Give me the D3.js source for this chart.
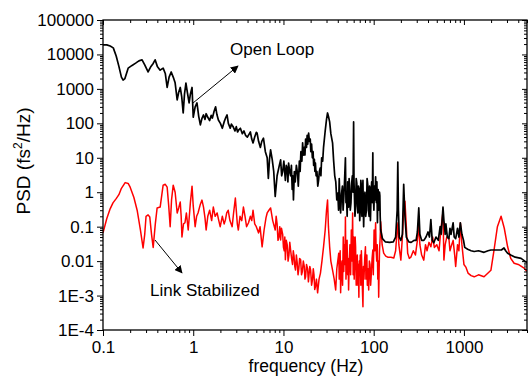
<!DOCTYPE html>
<html>
<head>
<meta charset="utf-8">
<script src="https://cdn.jsdelivr.net/npm/d3@7"></script>
<style>
  body { margin: 0; background: #fff; }
  svg { display: block; font-family: "Liberation Sans", Arial, sans-serif; }
</style>
</head>
<body>
<div id="chart"></div>
<script>
// tick values and their printed labels
const xTickValues = [0.1, 1, 10, 100, 1000];
const xTickLabels = ["0.1", "1", "10", "100", "1000"];
const yTickValues = [1e-4, 1e-3, 0.01, 0.1, 1, 10, 100, 1000, 10000, 100000];
const yTickLabels = ["1E-4", "1E-3", "0.01", "0.1", "1", "10", "100", "1000", "10000", "100000"];

// [frequency (Hz), PSD (fs^2/Hz)]
const openLoop = [
  [0.1,19000],[0.11,19000],[0.12,17500],[0.13,15500],[0.14,9000],[0.15,4500],[0.16,2200],[0.167,1800],
  [0.175,2000],[0.19,4000],[0.21,4800],[0.23,5600],[0.25,6500],[0.271,7000],[0.29,5000],[0.316,3100],
  [0.34,4500],[0.36,5500],[0.378,7000],[0.40,4500],[0.43,3500],[0.45,3800],[0.464,4000],[0.49,2800],
  [0.514,1100],[0.54,2200],[0.57,3100],[0.6,2200],[0.63,1500],[0.664,480],[0.69,800],[0.718,1100],
  [0.745,600],[0.774,200],[0.80,700],[0.83,1480],[0.86,800],[0.9,390],[0.93,700],[0.97,1100],[1.0,150],
  [1.05,300],[1.1,390],[1.15,160],[1.2,90],[1.25,140],[1.3,175],[1.35,130],[1.39,190],[1.45,150],
  [1.52,120],[1.58,170],[1.63,142],[1.7,220],[1.77,300],[1.83,180],[1.9,125],[2.0,100],[2.1,72],
  [2.2,110],[2.3,150],[2.37,175],[2.45,100],[2.57,72],[2.65,95],[2.78,78],[2.9,60],[3.0,80],[3.1,56],
  [3.2,65],[3.33,72],[3.5,50],[3.65,60],[3.8,45],[3.98,40],[4.15,48],[4.3,56],[4.45,35],[4.6,27],
  [4.8,40],[5.0,55],[5.1,52],[5.3,30],[5.55,20],[5.75,30],[6.0,37],[6.3,15],[6.6,10],[6.8,2.5],[7.0,9],
  [7.2,17],[7.5,9],[7.8,4],[8.1,0.75],[8.5,3],[9.0,6],[9.3,8.7],[9.55,3],[9.8,4],[10.1,8],[10.5,2.2],
  [10.75,6],[11.0,5],[11.2,2],[11.4,7],[11.7,4],[12.0,3],[12.25,6],[12.5,1.2],[12.7,3],[12.9,0.6],
  [13.2,4],[13.5,2],[13.9,6],[14.3,3.6],[14.6,1.5],[15.0,8],[15.3,4],[15.6,15],[16.0,8],[16.3,27],
  [16.6,12],[17.0,20],[17.3,12],[17.6,35],[18.0,20],[18.3,45],[18.6,25],[19.0,52],[19.4,30],[19.8,35],
  [20.1,15],[20.5,25],[20.9,10],[21.3,15],[21.6,6],[22.0,9],[22.3,4],[22.6,7],[23,3],[23.5,4],[24,1.5],
  [24.5,2.2],[25,4],[25.5,5],[26,3],[26.5,10],[27.2,8],[27.8,20],[29.0,60],[30.0,130],[30.8,200],
  [31.5,160],[32.5,110],[33.5,50],[35,27],[36,8],[37,3],[38,2],[39,0.6],[40,0.95],[40.8,0.3],[41.5,2.5],
  [42.3,0.5],[43,0.25],[44,0.9],[45,1.5],[45.8,0.3],[46.5,0.6],[47.5,2],[48.6,10],[49.3,0.5],[50,0.8],
  [50.8,0.2],[51.5,2],[52.1,0.6],[52.7,0.37],[53.4,2.5],[54,1.5],[55,0.3],[56,0.5],[57,1.8],[58,3],
  [59,1],[59.9,110],[60.5,2],[61,1],[62,0.2],[63,0.4],[64,2.5],[65,1.8],[66,0.4],[66.7,0.25],[67.8,1.5],
  [69,1.2],[70,0.15],[71,0.3],[72,2.2],[73,1.5],[74,0.2],[74.5,0.5],[75.3,1],[76,2.2],[76.8,0.3],
  [77.4,0.1],[78.5,0.6],[80,1],[81.5,0.2],[83,0.3],[84.5,2.5],[86,1.6],[87.5,0.3],[89,0.2],[90,1.5],
  [91,1],[92,0.15],[92.8,0.37],[94,1.2],[95,2],[96.5,0.5],[97.8,14],[98.5,1],[99,0.8],[100.5,0.3],
  [102,1.5],[103.5,0.6],[105,2.8],[106,1],[107,0.5],[108.5,2],[110,0.13],[111,0.6],[112,1.2],
  [113.5,0.3],[115,0.4],[116,1],[117,0.8],[118,0.2],[119.5,0.08],[125,0.045],[135,0.036],[150,0.035],
  [165,0.036],[175,0.05],[182,0.3],[185,7.5],[188,0.3],[192,0.05],[200,0.04],[208,0.06],[215,1.7],
  [222,0.2],[230,0.05],[245,0.036],[260,0.035],[280,0.04],[295,0.04],[305,0.07],[316,0.35],[325,0.06],
  [340,0.04],[360,0.04],[380,0.05],[400,0.07],[415,0.05],[430,0.16],[445,0.04],[464,0.034],[490,0.05],
  [520,0.04],[545,0.1],[560,0.06],[586,0.37],[600,0.15],[620,0.06],[631,0.12],[655,0.05],[681,0.045],
  [700,0.09],[720,0.06],[759,0.13],[780,0.05],[810,0.045],[850,0.09],[880,0.05],[913,0.13],[950,0.06],
  [990,0.04],[1020,0.025],[1100,0.022],[1200,0.02],[1300,0.019],[1450,0.02],[1670,0.018],[1850,0.02],
  [1990,0.021],[2300,0.021],[2600,0.021],[2780,0.024],[2900,0.02],[3050,0.017],[3300,0.015],
  [3700,0.013],[4300,0.012],[5000,0.009]
];

const linkStabilized = [
  [0.1,0.066],[0.11,0.17],[0.12,0.33],[0.129,0.49],[0.14,0.65],[0.15,0.85],[0.16,1.3],[0.176,1.9],
  [0.19,1.8],[0.2,1.4],[0.22,0.7],[0.239,0.3],[0.26,0.08],[0.278,0.024],[0.29,0.06],[0.30,0.2],
  [0.316,0.22],[0.33,0.19],[0.345,0.06],[0.36,0.025],[0.38,0.12],[0.398,0.35],[0.43,0.37],[0.45,0.9],
  [0.464,1.6],[0.49,1.7],[0.514,1.4],[0.535,0.4],[0.555,0.1],[0.575,0.6],[0.6,1.6],[0.63,1.0],
  [0.664,0.25],[0.69,0.35],[0.718,0.52],[0.735,0.2],[0.75,0.05],[0.78,0.12],[0.81,0.13],[0.84,0.25],
  [0.88,0.08],[0.93,0.5],[0.97,1.5],[1.0,0.4],[1.05,0.1],[1.09,0.2],[1.13,0.25],[1.2,0.45],[1.25,0.59],
  [1.3,0.37],[1.35,0.18],[1.39,0.08],[1.45,0.2],[1.52,0.3],[1.6,0.15],[1.67,0.37],[1.75,0.2],[1.84,0.25],
  [1.92,0.15],[1.99,0.1],[2.1,0.2],[2.2,0.12],[2.27,0.155],[2.35,0.25],[2.44,0.3],[2.55,0.15],[2.7,0.1],
  [2.8,0.25],[2.93,0.68],[3.0,0.3],[3.08,0.12],[3.16,0.08],[3.3,0.2],[3.45,0.15],[3.6,0.37],[3.75,0.2],
  [3.9,0.1],[4.1,0.13],[4.3,0.2],[4.45,0.15],[4.6,0.3],[4.8,0.12],[5.0,0.1],[5.3,0.066],[5.5,0.1],
  [5.8,0.026],[6.1,0.08],[6.4,0.18],[6.6,0.25],[6.9,0.3],[7.2,0.35],[7.6,0.15],[8.1,0.08],[8.3,0.2],
  [8.5,0.12],[8.7,0.04],[8.9,0.05],[9.1,0.1],[9.3,0.041],[9.5,0.09],[9.8,0.06],[10,0.025],[10.2,0.02],
  [10.35,0.05],[10.5,0.011],[10.75,0.04],[11.0,0.03],[11.25,0.01],[11.5,0.015],[11.75,0.035],
  [12.0,0.021],[12.3,0.012],[12.6,0.008],[12.85,0.02],[13.1,0.014],[13.35,0.007],[13.6,0.0055],
  [13.9,0.015],[14.2,0.009],[14.5,0.004],[14.8,0.006],[15.1,0.012],[15.5,0.011],[15.85,0.004],
  [16.2,0.005],[16.6,0.01],[17.0,0.007],[17.3,0.003],[17.6,0.0035],[18,0.008],[18.5,0.006],
  [18.9,0.0025],[19.2,0.004],[19.6,0.007],[20.0,0.0055],[20.5,0.002],[21.0,0.003],[21.4,0.006],
  [21.8,0.004],[22.2,0.0015],[22.6,0.0018],[23.2,0.003],[23.9,0.0012],[24.8,0.003],[25.7,0.0045],
  [26.7,0.01],[27.8,0.026],[29,0.08],[30,0.3],[30.8,0.59],[31.5,0.1],[32.5,0.026],[33.5,0.01],
  [35,0.0055],[36.5,0.003],[37.9,0.00145],[39,0.006],[41,0.017],[41.5,0.003],[42,0.004],[42.5,0.02],
  [43,0.0012],[43.7,0.006],[44.5,0.01],[45.2,0.002],[46,0.05],[46.6,0.005],[47.3,0.03],[48,0.008],
  [48.6,0.19],[49.3,0.003],[50,0.01],[50.7,0.04],[51.5,0.004],[52.1,0.012],[52.7,0.00145],[53.5,0.008],
  [54.5,0.03],[55.5,0.004],[56.5,0.08],[57.5,0.01],[58.4,0.25],[59.2,0.004],[60,0.05],[60.8,0.003],
  [61.5,0.01],[62.3,0.05],[63,0.026],[64,0.002],[65,0.004],[65.8,0.015],[66.7,0.002],[67.6,0.008],
  [68.5,0.0009],[69.3,0.01],[70,0.004],[71,0.015],[72,0.002],[73,0.02],[74,0.006],[75,0.0015],
  [76,0.00047],[77,0.007],[78,0.003],[79.5,0.012],[81,0.026],[82,0.003],[83,0.005],[84,0.015],
  [85,0.002],[86.5,0.006],[88,0.00145],[89.5,0.01],[91,0.008],[92.5,0.002],[94,0.004],[96,0.012],
  [97.8,0.021],[99,0.004],[101,0.08],[103,0.02],[105,0.13],[106.5,0.02],[108,0.01],[109.5,0.03],
  [111,0.003],[112.3,0.01],[113.6,0.0009],[115,0.006],[116,0.02],[118,0.05],[119.5,0.14],[124,0.03],
  [129,0.017],[136,0.014],[143,0.013],[155,0.013],[167,0.0123],[175,0.02],[182,0.08],[186,0.13],
  [190,0.03],[200,0.0107],[208,0.05],[215,0.3],[222,0.55],[230,0.1],[238,0.017],[248,0.012],[258,0.013],
  [275,0.02],[290,0.015],[305,0.04],[316,0.12],[325,0.03],[340,0.015],[359,0.0107],[375,0.03],
  [390,0.02],[410,0.035],[430,0.026],[450,0.05],[470,0.025],[500,0.03],[530,0.02],[556,0.087],
  [586,0.27],[600,0.0107],[620,0.03],[645,0.05],[681,0.047],[700,0.02],[720,0.026],[759,0.04],
  [790,0.015],[810,0.007],[850,0.03],[880,0.02],[913,0.13],[950,0.03],[1000,0.008],[1050,0.0067],
  [1110,0.0045],[1200,0.0038],[1300,0.0035],[1450,0.004],[1670,0.0035],[1850,0.0045],[1990,0.0054],
  [2150,0.02],[2350,0.1],[2580,0.2],[2800,0.09],[3050,0.026],[3300,0.012],[3600,0.0087],[4000,0.008],
  [4640,0.0063],[5000,0.005]
];

const W = 530, H = 376;
const plot = {left: 103, right: 527, top: 20, bottom: 330};

const svg = d3.select("#chart").append("svg")
    .attr("width", W)
    .attr("height", H);

const x = d3.scaleLog().domain([0.1, 5000]).range([plot.left, plot.right]);
const y = d3.scaleLog().domain([1e-4, 1e5]).range([plot.bottom, plot.top]);

const isMajor = v => Math.abs(Math.log10(v) - Math.round(Math.log10(v))) < 1e-6;
const xMinor = x.ticks().filter(v => !isMajor(v));
const yMinor = y.ticks().filter(v => !isMajor(v));

svg.append("clipPath").attr("id", "clip")
  .append("rect")
    .attr("x", plot.left).attr("y", plot.top)
    .attr("width", plot.right - plot.left).attr("height", plot.bottom - plot.top);

const line = d3.line()
    .x(d => x(d[0]))
    .y(d => y(d[1]));

const lines = svg.append("g").attr("clip-path", "url(#clip)");
lines.append("path")
    .datum(linkStabilized)
    .attr("fill", "none")
    .attr("stroke", "#ff0000")
    .attr("stroke-width", 1.5)
    .attr("stroke-linejoin", "round")
    .attr("d", line);
lines.append("path")
    .datum(openLoop)
    .attr("fill", "none")
    .attr("stroke", "#000")
    .attr("stroke-width", 1.7)
    .attr("stroke-linejoin", "round")
    .attr("d", line);

// axes: left/bottom ticks out, top/right ticks in
function styleAxis(g) {
  g.select(".domain").remove();
  g.selectAll("line").attr("stroke", "#000").attr("stroke-width", 1);
  g.selectAll("text").attr("font-size", 17).attr("fill", "#000")
    .attr("font-family", "'Liberation Sans', Arial, sans-serif");
}

svg.append("g").attr("transform", `translate(${plot.left},0)`)
    .call(d3.axisLeft(y).tickValues(yTickValues).tickSize(6).tickPadding(3)
      .tickFormat((d, i) => yTickLabels[i]))
    .call(styleAxis);
svg.append("g").attr("transform", `translate(${plot.left},0)`)
    .call(d3.axisLeft(y).tickValues(yMinor).tickSize(3).tickFormat(""))
    .call(styleAxis);

svg.append("g").attr("transform", `translate(0,${plot.bottom})`)
    .call(d3.axisBottom(x).tickValues(xTickValues).tickSize(6).tickPadding(5)
      .tickFormat((d, i) => xTickLabels[i]))
    .call(styleAxis);
svg.append("g").attr("transform", `translate(0,${plot.bottom})`)
    .call(d3.axisBottom(x).tickValues(xMinor).tickSize(3).tickFormat(""))
    .call(styleAxis);

svg.append("g").attr("transform", `translate(0,${plot.top})`)
    .call(d3.axisBottom(x).tickValues(xTickValues).tickSize(5).tickFormat(""))
    .call(styleAxis);
svg.append("g").attr("transform", `translate(0,${plot.top})`)
    .call(d3.axisBottom(x).tickValues(xMinor).tickSize(3).tickFormat(""))
    .call(styleAxis);

svg.append("g").attr("transform", `translate(${plot.right},0)`)
    .call(d3.axisLeft(y).tickValues(yTickValues).tickSize(5).tickFormat(""))
    .call(styleAxis);
svg.append("g").attr("transform", `translate(${plot.right},0)`)
    .call(d3.axisLeft(y).tickValues(yMinor).tickSize(3).tickFormat(""))
    .call(styleAxis);

svg.append("rect")
    .attr("x", plot.left).attr("y", plot.top)
    .attr("width", plot.right - plot.left).attr("height", plot.bottom - plot.top)
    .attr("fill", "none").attr("stroke", "#000").attr("stroke-width", 1.3);

// axis titles
svg.append("text")
    .attr("x", 306).attr("y", 372)
    .attr("text-anchor", "middle")
    .attr("font-size", 17.5)
    .text("frequency (Hz)");

const yTitle = svg.append("text")
    .attr("transform", "translate(30,161) rotate(-90)")
    .attr("text-anchor", "middle")
    .attr("font-size", 19);
yTitle.append("tspan").text("PSD (fs");
yTitle.append("tspan").attr("font-size", 12).attr("dy", -8).text("2");
yTitle.append("tspan").attr("dy", 8).text("/Hz)");

// annotations
const defs = svg.append("defs");
defs.append("marker")
    .attr("id", "arrow")
    .attr("viewBox", "0 0 10 10")
    .attr("refX", 9).attr("refY", 5)
    .attr("markerWidth", 8).attr("markerHeight", 8)
    .attr("markerUnits", "userSpaceOnUse")
    .attr("orient", "auto")
  .append("path")
    .attr("d", "M0,0L10,5L0,10z")
    .attr("fill", "#000");

svg.append("line")
    .attr("x1", 193).attr("y1", 103).attr("x2", 238).attr("y2", 66)
    .attr("stroke", "#000").attr("stroke-width", 1)
    .attr("marker-end", "url(#arrow)");
svg.append("line")
    .attr("x1", 155).attr("y1", 240).attr("x2", 182).attr("y2", 273)
    .attr("stroke", "#000").attr("stroke-width", 1)
    .attr("marker-end", "url(#arrow)");

svg.append("text")
    .attr("x", 230).attr("y", 55)
    .attr("font-size", 17)
    .text("Open Loop");
svg.append("text")
    .attr("x", 150).attr("y", 296)
    .attr("font-size", 17)
    .text("Link Stabilized");
</script>
</body>
</html>
